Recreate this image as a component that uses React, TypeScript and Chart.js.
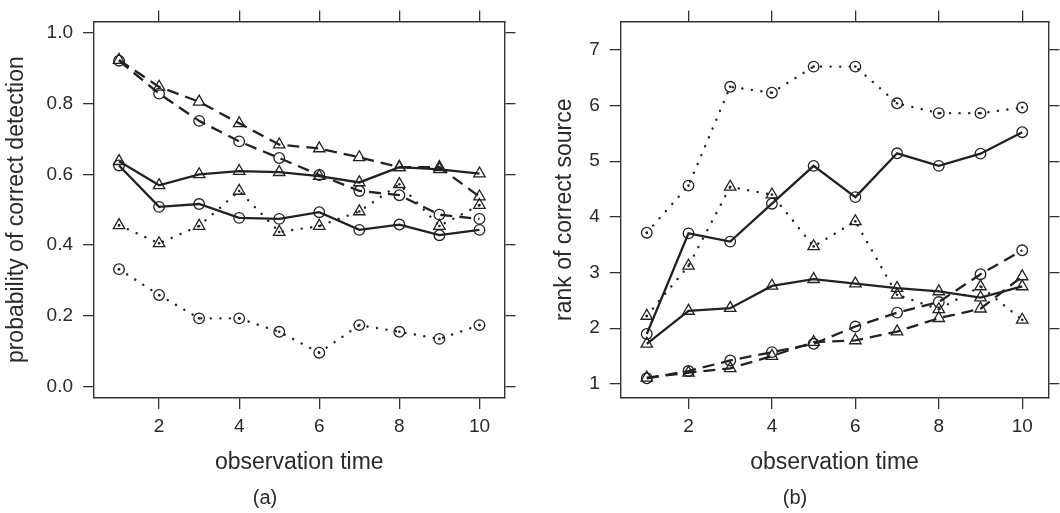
import React, { useEffect, useRef } from "react";
import { Chart, registerables } from "chart.js";

Chart.register(...registerables);

// ---- data ----
const obsTime = [1, 2, 3, 4, 5, 6, 7, 8, 9, 10];
const xTickValues = [2, 4, 6, 8, 10];
const probTickValues = [0, 0.2, 0.4, 0.6, 0.8, 1.0];
const rankTickValues = [1, 2, 3, 4, 5, 6, 7];

// panel (a): probability of correct detection
const probSolidTri = [0.637, 0.569, 0.600, 0.609, 0.606, 0.595, 0.577, 0.620, 0.614, 0.602];
const probSolidCirc = [0.625, 0.508, 0.516, 0.477, 0.474, 0.493, 0.443, 0.458, 0.428, 0.443];
const probDashedTri = [0.923, 0.847, 0.805, 0.744, 0.684, 0.673, 0.648, 0.620, 0.620, 0.537];
const probDashedCirc = [0.921, 0.828, 0.751, 0.693, 0.646, 0.598, 0.553, 0.541, 0.486, 0.474];
const probDottedTri = [0.456, 0.405, 0.454, 0.553, 0.437, 0.454, 0.495, 0.572, 0.454, 0.513];
const probDottedCirc = [0.332, 0.259, 0.193, 0.193, 0.155, 0.096, 0.174, 0.155, 0.135, 0.174];

// panel (b): rank of correct source
const rankSolidCirc = [1.897, 3.704, 3.556, 4.237, 4.917, 4.355, 5.142, 4.917, 5.136, 5.521];
const rankSolidTri = [1.72, 2.31, 2.36, 2.76, 2.88, 2.80, 2.72, 2.66, 2.55, 2.75];
const rankDashedCirc = [1.10, 1.23, 1.42, 1.57, 1.72, 2.03, 2.28, 2.47, 2.97, 3.40];
const rankDashedTri = [1.11, 1.20, 1.28, 1.50, 1.75, 1.78, 1.94, 2.18, 2.35, 2.93];
const rankDottedCirc = [3.716, 4.562, 6.337, 6.231, 6.70, 6.70, 6.041, 5.864, 5.864, 5.964];
const rankDottedTri = [2.22, 3.12, 4.54, 4.40, 3.47, 3.92, 2.60, 2.34, 2.75, 2.15];

// ---- styling ----
const FONT = "'Liberation Sans', Arial, Helvetica, sans-serif";
const INK = "#222";
const AXIS = "#333";
const TEXT = "#2a2a2a";

type LineKind = "solid" | "dashed" | "dotted";

function series(values: number[], kind: LineKind, marker: "circle" | "triangle") {
  const data = obsTime.map((t, i) => ({ x: t, y: values[i] }));
  const out: any[] = [
    {
      data,
      xAxisID: "x",
      yAxisID: "y",
      borderColor: INK,
      borderWidth: kind === "dotted" ? 2.4 : 2.3,
      borderDash: kind === "dashed" ? [12, 7] : kind === "dotted" ? [0.1, 9.5] : [],
      borderCapStyle: kind === "dotted" ? "round" : "butt",
      tension: 0,
      fill: false,
      pointStyle: marker,
      pointRadius: marker === "triangle" ? 6.6 : 5.3,
      pointHoverRadius: marker === "triangle" ? 6.6 : 5.3,
      pointBorderWidth: 1.3,
      pointBorderColor: INK,
      pointBackgroundColor: "rgba(0,0,0,0)",
    },
  ];
  if (kind === "dotted") {
    out.push({
      data,
      xAxisID: "x",
      yAxisID: "y",
      showLine: false,
      pointStyle: "circle",
      pointRadius: 1.3,
      pointHoverRadius: 1.3,
      pointBorderWidth: 0,
      pointBackgroundColor: INK,
    });
  }
  return out;
}

interface PanelSpec {
  datasets: any[];
  yMin: number;
  yMax: number;
  yTicks: number[];
  yDecimals: number;
  yTitle: string;
  yTitlePad: number;
  leftWidth: number;
  rightWidth: number;
  tag: string;
}

function buildConfig(p: PanelSpec): any {
  const xMin = 0.375;
  const xMax = 10.625;
  const grid = {
    display: true,
    drawOnChartArea: false,
    drawTicks: true,
    tickLength: 11,
    color: AXIS,
    lineWidth: 1.3,
  };
  const border = { display: true, color: AXIS, width: 1.4 };
  const xTicksFn = (s: any) => {
    s.ticks = xTickValues.map((v) => ({ value: v }));
  };
  const yTicksFn = (s: any) => {
    s.ticks = p.yTicks.map((v) => ({ value: v }));
  };
  return {
    type: "line",
    data: { datasets: p.datasets },
    options: {
      responsive: false,
      animation: false,
      devicePixelRatio: 1,
      layout: { padding: 0 },
      events: [],
      plugins: {
        legend: { display: false },
        tooltip: { enabled: false },
        title: { display: false },
        subtitle: {
          display: true,
          position: "bottom",
          text: p.tag,
          color: TEXT,
          font: { family: FONT, size: 20, weight: "normal" },
          padding: { top: 0, bottom: 3 },
        },
      },
      scales: {
        x: {
          type: "linear",
          position: "bottom",
          min: xMin,
          max: xMax,
          afterBuildTicks: xTicksFn,
          afterFit: (s: any) => {
            s.height = 88;
          },
          grid,
          border,
          ticks: {
            color: TEXT,
            font: { family: FONT, size: 19 },
            padding: 6,
            maxRotation: 0,
            autoSkip: false,
            callback: (v: any) => String(v),
          },
          title: {
            display: true,
            text: "observation time",
            color: TEXT,
            font: { family: FONT, size: 23 },
            padding: { top: 0, bottom: 10 },
          },
        },
        xTop: {
          type: "linear",
          position: "top",
          min: xMin,
          max: xMax,
          afterBuildTicks: xTicksFn,
          afterFit: (s: any) => {
            s.height = 17;
          },
          grid,
          border,
          ticks: { display: false },
        },
        y: {
          type: "linear",
          position: "left",
          min: p.yMin,
          max: p.yMax,
          afterBuildTicks: yTicksFn,
          afterFit: (s: any) => {
            s.width = p.leftWidth;
          },
          grid,
          border,
          ticks: {
            color: TEXT,
            font: { family: FONT, size: 19 },
            padding: 10,
            autoSkip: false,
            callback: (v: any) => Number(v).toFixed(p.yDecimals),
          },
          title: {
            display: true,
            text: p.yTitle,
            color: TEXT,
            font: { family: FONT, size: 23 },
            padding: { top: p.yTitlePad, bottom: 0 },
          },
        },
        yRight: {
          type: "linear",
          position: "right",
          min: p.yMin,
          max: p.yMax,
          afterBuildTicks: yTicksFn,
          afterFit: (s: any) => {
            s.width = p.rightWidth;
          },
          grid,
          border,
          ticks: { display: false },
        },
      },
    },
  };
}

const panelA: PanelSpec = {
  datasets: [
    ...series(probSolidTri, "solid", "triangle"),
    ...series(probSolidCirc, "solid", "circle"),
    ...series(probDashedTri, "dashed", "triangle"),
    ...series(probDashedCirc, "dashed", "circle"),
    ...series(probDottedTri, "dotted", "triangle"),
    ...series(probDottedCirc, "dotted", "circle"),
  ],
  yMin: -0.032,
  yMax: 1.032,
  yTicks: probTickValues,
  yDecimals: 1,
  yTitle: "probability of correct detection",
  yTitlePad: 2.5,
  leftWidth: 94,
  rightWidth: 25.5,
  tag: "(a)",
};

const panelB: PanelSpec = {
  datasets: [
    ...series(rankSolidCirc, "solid", "circle"),
    ...series(rankSolidTri, "solid", "triangle"),
    ...series(rankDashedCirc, "dashed", "circle"),
    ...series(rankDashedTri, "dashed", "triangle"),
    ...series(rankDottedCirc, "dotted", "circle"),
    ...series(rankDottedTri, "dotted", "triangle"),
  ],
  yMin: 0.746,
  yMax: 7.512,
  yTicks: rankTickValues,
  yDecimals: 0,
  yTitle: "rank of correct source",
  yTitlePad: 21,
  leftWidth: 90.7,
  rightWidth: 11.7,
  tag: "(b)",
};

function Panel({ spec, left }: { spec: PanelSpec; left: number }) {
  const ref = useRef<HTMLCanvasElement | null>(null);
  useEffect(() => {
    if (!ref.current) return;
    const chart = new Chart(ref.current, buildConfig(spec));
    return () => chart.destroy();
  }, [spec]);
  return (
    <div style={{ position: "absolute", left, top: 0, width: 530, height: 513 }}>
      <canvas ref={ref} width={530} height={513} style={{ display: "block", width: 530, height: 513 }} />
    </div>
  );
}

export default function App() {
  return (
    <div style={{ position: "absolute", left: 0, top: 0, width: 1060, height: 513, background: "#fff" }}>
      <Panel spec={panelA} left={0} />
      <Panel spec={panelB} left={530} />
    </div>
  );
}
